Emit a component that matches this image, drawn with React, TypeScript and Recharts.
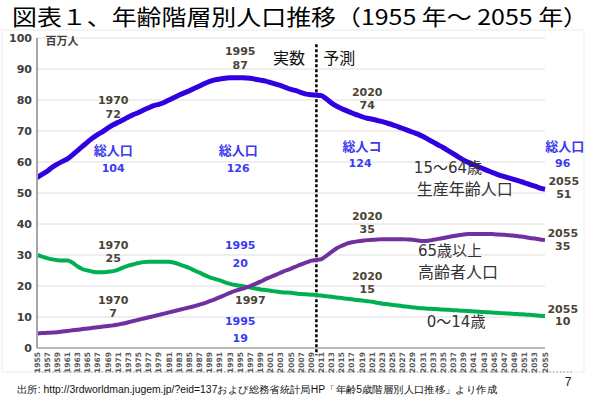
import { LineChart, Line, XAxis, YAxis, CartesianGrid, ReferenceLine, ReferenceDot } from "recharts";

// 1955..2055, one point per year
const years = Array.from({ length: 101 }, (_, i) => 1955 + i);
const tickYears = years.filter((y) => y % 2 === 1);
const yTicks = [0, 10, 20, 30, 40, 50, 60, 70, 80, 90, 100];

// 15~64歳 (百万人)
const working = [
  55, 56, 57, 58.3, 59.3, 60.2, 61, 62.3, 63.7, 65.1,
  66.5, 67.8, 68.9, 69.9, 71, 72, 72.8, 73.6, 74.5, 75.3,
  76, 76.8, 77.5, 78.2, 78.6, 79.2, 80, 80.8, 81.6, 82.3,
  83, 83.8, 84.5, 85.3, 86, 86.5, 86.8, 87, 87.2, 87.2,
  87.2, 87.1, 87, 86.7, 86.4, 86.1, 85.6, 85.1, 84.6, 84,
  83.4, 83, 82.4, 81.9, 81.7, 81.6, 81.4, 80.3, 79, 78,
  77.2, 76.5, 75.8, 75.2, 74.6, 74.1, 73.8, 73.4, 73, 72.5,
  72, 71.4, 70.8, 70.2, 69.6, 69, 68.2, 67.3, 66.4, 65.5,
  64.6, 63.6, 62.6, 61.6, 60.6, 59.8, 59.1, 58.4, 57.7, 57,
  56.4, 55.8, 55.3, 54.8, 54.3, 53.8, 53.3, 52.7, 52.2, 51.6,
  51.2,
];

// 0~14歳
const young = [
  30, 29.5, 29, 28.6, 28.3, 28.2, 28.2, 27.5, 26.3, 25.4,
  25, 24.6, 24.4, 24.4, 24.6, 24.8, 25.3, 26, 26.6, 27,
  27.4, 27.7, 27.8, 27.8, 27.8, 27.8, 27.8, 27.5, 27, 26.4,
  25.8, 25, 24.3, 23.5, 22.8, 22.3, 21.8, 21.2, 20.7, 20.3,
  20.1, 19.8, 19.5, 19.2, 18.9, 18.7, 18.5, 18.2, 18, 17.9,
  17.8, 17.6, 17.4, 17.3, 17.2, 17.1, 16.9, 16.7, 16.5, 16.3,
  16.1, 15.9, 15.7, 15.5, 15.3, 15.1, 14.9, 14.6, 14.3, 14.1,
  13.9, 13.7, 13.5, 13.3, 13.1, 12.9, 12.8, 12.7, 12.6, 12.5,
  12.4, 12.3, 12.2, 12.1, 12, 11.9, 11.8, 11.7, 11.6, 11.5,
  11.4, 11.3, 11.2, 11.1, 11, 10.9, 10.8, 10.7, 10.6, 10.4,
  10.3,
];

// 65歳以上
const elderly = [
  4.7, 4.8, 4.9, 5, 5.1, 5.3, 5.5, 5.7, 5.9, 6.1,
  6.3, 6.5, 6.7, 6.9, 7.1, 7.3, 7.6, 7.9, 8.3, 8.7,
  9.1, 9.5, 9.9, 10.3, 10.7, 11.1, 11.5, 11.9, 12.3, 12.7,
  13.1, 13.5, 14, 14.5, 15.1, 15.7, 16.4, 17.1, 17.8, 18.4,
  18.9, 19.4, 20, 20.7, 21.4, 22.2, 22.9, 23.6, 24.3, 25,
  25.6, 26.3, 27, 27.6, 28.2, 28.4, 28.7, 29.8, 31, 32.2,
  33, 33.7, 34.1, 34.4, 34.6, 34.8, 34.9, 35, 35.1, 35.1,
  35.1, 35.1, 35.1, 35, 34.9, 34.7, 34.5, 34.6, 34.9, 35.2,
  35.5, 35.8, 36.1, 36.4, 36.6, 36.8, 36.8, 36.8, 36.8, 36.8,
  36.7, 36.6, 36.5, 36.4, 36.2, 36, 35.8, 35.5, 35.3, 35,
  34.8,
];

const data = years.map((year, i) => ({
  year,
  working: working[i],
  young: young[i],
  elderly: elderly[i],
}));

const NUM = "#4a4436";
const BLUE = "#3b3bf0";
const JP = "'Noto Sans CJK JP', sans-serif";
const LAT = "'DejaVu Sans', Verdana, sans-serif";

type Note = { x: number; y: number; t: string; k: "num" | "blue" | "blueJa" | "ja" | "big" | "mid" | "unit" };

// annotation text, placed in data space (year, 百万人)
const notes: Note[] = [
  { x: 1959.9, y: 99.1, t: "百万人", k: "unit" },
  { x: 1995, y: 95.8, t: "1995", k: "num" },
  { x: 1995, y: 91.4, t: "87", k: "num" },
  { x: 2004.6, y: 93.4, t: "実数", k: "ja" },
  { x: 2014.5, y: 93.4, t: "予測", k: "ja" },
  { x: 1970, y: 80, t: "1970", k: "num" },
  { x: 1970, y: 75.6, t: "72", k: "num" },
  { x: 1970, y: 63.7, t: "総人口", k: "blueJa" },
  { x: 1970, y: 57.9, t: "104", k: "blue" },
  { x: 1994.6, y: 63.9, t: "総人口", k: "blueJa" },
  { x: 1994.6, y: 58.2, t: "126", k: "blue" },
  { x: 2020, y: 82.6, t: "2020", k: "num" },
  { x: 2020, y: 78.4, t: "74", k: "num" },
  { x: 2019, y: 65.2, t: "総人コ", k: "blueJa" },
  { x: 2018.6, y: 59.7, t: "124", k: "blue" },
  { x: 2058.9, y: 65.2, t: "総人口", k: "blueJa" },
  { x: 2058.5, y: 59.7, t: "96", k: "blue" },
  { x: 2035.9, y: 58.2, t: "15～64歳", k: "mid" },
  { x: 2039.2, y: 51.2, t: "生産年齢人口", k: "big" },
  { x: 2058.7, y: 53.7, t: "2055", k: "num" },
  { x: 2058.7, y: 49.7, t: "51", k: "num" },
  { x: 1970, y: 33.2, t: "1970", k: "num" },
  { x: 1970, y: 28.9, t: "25", k: "num" },
  { x: 1995, y: 33.2, t: "1995", k: "blue" },
  { x: 1995, y: 27.4, t: "20", k: "blue" },
  { x: 1997, y: 15.5, t: "1997", k: "num" },
  { x: 1970, y: 15.5, t: "1970", k: "num" },
  { x: 1970, y: 11.3, t: "7", k: "num" },
  { x: 1995, y: 8.7, t: "1995", k: "blue" },
  { x: 1995, y: 3.1, t: "19", k: "blue" },
  { x: 2020, y: 42.7, t: "2020", k: "num" },
  { x: 2020, y: 38.4, t: "35", k: "num" },
  { x: 2036.3, y: 31.4, t: "65歳以上", k: "mid" },
  { x: 2037.9, y: 24.6, t: "高齢者人口", k: "big" },
  { x: 2058.5, y: 37.1, t: "2055", k: "num" },
  { x: 2058.5, y: 32.9, t: "35", k: "num" },
  { x: 2020, y: 23.2, t: "2020", k: "num" },
  { x: 2020, y: 19, t: "15", k: "num" },
  { x: 2037.5, y: 8.5, t: "0～14歳", k: "mid" },
  { x: 2058.5, y: 12.7, t: "2055", k: "num" },
  { x: 2058.5, y: 8.7, t: "10", k: "num" },
];

const noteStyle = (k: Note["k"]) => {
  switch (k) {
    case "num": return { fill: NUM, fontSize: 11, fontWeight: 700, fontFamily: LAT };
    case "blue": return { fill: BLUE, fontSize: 11, fontWeight: 700, fontFamily: LAT };
    case "blueJa": return { fill: BLUE, fontSize: 13, fontWeight: 700, fontFamily: JP };
    case "ja": return { fill: "#111", fontSize: 16, fontWeight: 400, fontFamily: JP };
    case "unit": return { fill: "#404040", fontSize: 11, fontWeight: 700, fontFamily: JP };
    case "mid": return { fill: "#333", fontSize: 15, fontWeight: 400, fontFamily: LAT };
    default: return { fill: "#333", fontSize: 16, fontWeight: 400, fontFamily: JP };
  }
};

// digits in the latin face, kana/kanji and ～ in the CJK face
const runs = (t: string) =>
  t.split(/([\x00-\x7f]+)/).filter(Boolean).map((s, i) => (
    <tspan key={i} fontFamily={/^[\x00-\x7f]+$/.test(s) ? undefined : JP}>{s}</tspan>
  ));

const XTick = ({ x, y, payload }: any) => (
  <text
    x={x}
    y={y}
    transform={`rotate(-90 ${x} ${y})`}
    textAnchor="end"
    dominantBaseline="central"
    fontSize={7.5}
    fontWeight={700}
    fontFamily={LAT}
    fill="#5a5a5a"
  >
    {payload.value}
  </text>
);

export default function App() {
  return (
    <div style={{ position: "relative", width: 600, height: 405, background: "#fff", overflow: "hidden" }}>
      <style>{`body{margin:0}`}</style>
      <svg width={600} height={405} style={{ position: "absolute", left: 0, top: 0 }}>
        <rect x={2} y={30} width={582} height={342} fill="none" stroke="#ececec" />
        <line x1={35} y1={372} x2={572} y2={372} stroke="#9a9a9a" strokeDasharray="1.5 2" />
        <text x={300} y={25} textAnchor="middle" fontSize={21.5} fontFamily={JP} fill="#000"
          textLength={576} lengthAdjust="spacingAndGlyphs">
          図表１、年齢階層別人口推移（1955 年～ 2055 年）
        </text>
        <text x={17} y={393} fontSize={10} fontFamily="'Liberation Sans', Arial, sans-serif" fill="#111"
          textLength={480} lengthAdjust="spacingAndGlyphs">
          出所: http://3rdworldman.jugem.jp/?eid=137および総務省統計局HP「年齢5歳階層別人口推移」より作成
        </text>
        <text x={568} y={386} textAnchor="middle" fontSize={12} fontFamily="'Liberation Sans', Arial, sans-serif" fill="#222">7</text>
      </svg>
      <div style={{ position: "absolute", left: 0, top: 0 }}>
        <LineChart width={600} height={405} data={data} margin={{ top: 38, right: 55, bottom: 27, left: 0 }}>
          <CartesianGrid vertical={false} stroke="#dedede" />
          <XAxis
            dataKey="year"
            type="number"
            domain={[1955, 2055]}
            ticks={tickYears}
            interval={0}
            tick={<XTick />}
            tickLine={false}
            tickSize={0}
            tickMargin={4}
            height={30}
            axisLine={{ stroke: "#a6a6a6", strokeWidth: 1.5 }}
          />
          <YAxis
            domain={[0, 100]}
            ticks={yTicks}
            interval={0}
            width={37}
            tickLine={false}
            tickSize={0}
            tickMargin={5}
            tick={{ fill: "#404040", fontSize: 11, fontWeight: 700, fontFamily: LAT }}
            axisLine={{ stroke: "#a6a6a6", strokeWidth: 2 }}
          />
          <ReferenceLine
            segment={[{ x: 2010, y: 98 }, { x: 2010, y: -2.3 }]}
            stroke="#000"
            strokeWidth={2.5}
            strokeDasharray="3 2"
            ifOverflow="visible"
          />
          <Line type="monotone" dataKey="young" stroke="#00b050" strokeWidth={4} dot={false} isAnimationActive={false} />
          <Line type="monotone" dataKey="elderly" stroke="#7030a0" strokeWidth={4} dot={false} isAnimationActive={false} />
          <Line type="monotone" dataKey="working" stroke="#3000e0" strokeWidth={5} dot={false} isAnimationActive={false} />
          {notes.map((n, i) => (
            <ReferenceDot
              key={i}
              x={n.x}
              y={n.y}
              r={0}
              ifOverflow="visible"
              shape={(p: any) => (
                <text x={p.cx} y={p.cy} dy="0.36em" textAnchor="middle" {...noteStyle(n.k)}>
                  {runs(n.t)}
                </text>
              )}
            />
          ))}
        </LineChart>
      </div>
    </div>
  );
}
